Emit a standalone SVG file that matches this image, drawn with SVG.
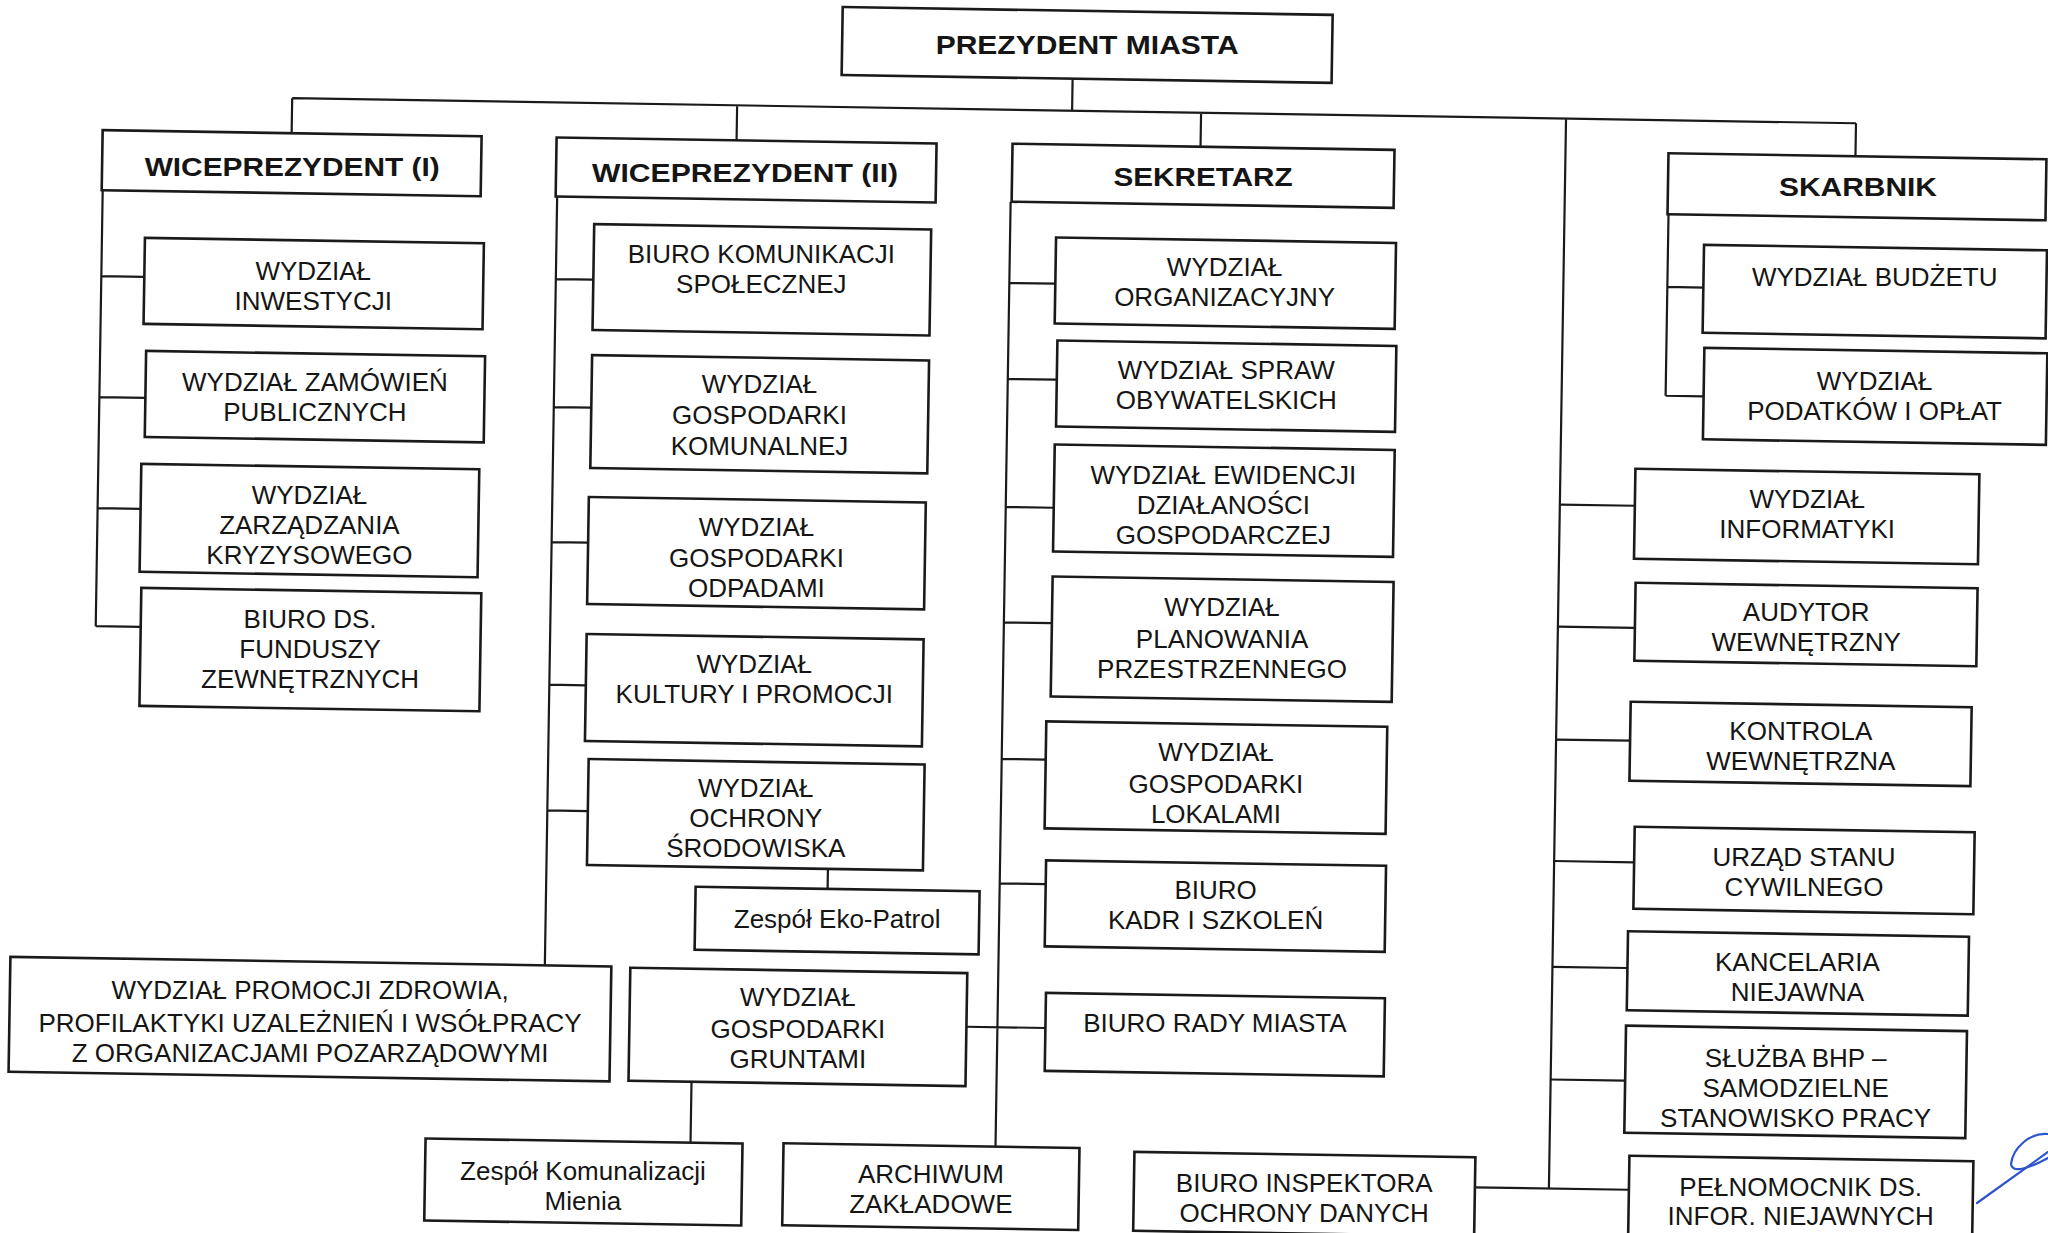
<svg xmlns="http://www.w3.org/2000/svg" width="2048" height="1233" viewBox="0 0 2048 1233">
<style>
.box{fill:#fff;stroke:#1a1a1a;stroke-width:2.6}
.ln{fill:none;stroke:#1a1a1a;stroke-width:2.2}
.t{font-family:"Liberation Sans",Arial,sans-serif;font-size:26px;text-anchor:middle;fill:#151515}
.h{font-family:"Liberation Sans",Arial,sans-serif;font-size:26px;font-weight:bold;text-anchor:middle;fill:#151515}
.sig{fill:none;stroke:#2f55cc;stroke-width:2.2;stroke-linecap:round}
</style>
<rect width="2048" height="1233" fill="#fff"/>
<g transform="rotate(0.917 1024 616)">
<g id="connectors">
<path class="ln" d="M1064,78V110M284,110H1848M284,110V145M729,110V145M1193,110V144M1848,110V143M1558,110V1180"/>
<path class="ln" d="M96,205V641M96,291H139M96,412H142M96,523H139M96,641H141"/>
<path class="ln" d="M550.5,204V973M550.5,286.6H588M550.5,414.6H588M550.5,549.6H587M550.5,692.3H587M550.5,818H591M832,872V892M699,1087V1148"/>
<path class="ln" d="M1004,202V1147M1004,283.2H1050M1004,379.2H1053M1004,507.3H1052M1004,622.7H1052M1004,759.3H1048M1004,883.7H1050M973,1027.6H1052"/>
<path class="ln" d="M1558,496H1633M1558,618H1635M1558,731H1632M1558,852.5H1638M1558,958.3H1633M1558,1071H1632.5M1484,1180H1638"/>
<path class="ln" d="M1662,204V385.5M1662,276.7H1698M1662,385.5H1700"/>
</g>
<g id="prezydent"><rect class="box" x="833" y="10" width="490" height="68"/><text class="h" x="1078" y="53.5" textLength="303" lengthAdjust="spacingAndGlyphs" transform="rotate(-0.917 1078 44)">PREZYDENT MIASTA</text></g>
<g id="wiceprezydent1"><rect class="box" x="95" y="145" width="379" height="60"/><text class="h" x="285" y="188" textLength="295" lengthAdjust="spacingAndGlyphs" transform="rotate(-0.917 285 175)">WICEPREZYDENT (I)</text></g>
<g id="wiceprezydent2"><rect class="box" x="549" y="145" width="380" height="59"/><text class="h" x="738" y="187" textLength="306" lengthAdjust="spacingAndGlyphs" transform="rotate(-0.917 738 175)">WICEPREZYDENT (II)</text></g>
<g id="sekretarz"><rect class="box" x="1005" y="144" width="382" height="58"/><text class="h" x="1196" y="183.7" textLength="179" lengthAdjust="spacingAndGlyphs" transform="rotate(-0.917 1196 173)">SEKRETARZ</text></g>
<g id="skarbnik"><rect class="box" x="1661" y="143" width="378" height="61"/><text class="h" x="1851" y="182.7" textLength="158" lengthAdjust="spacingAndGlyphs" transform="rotate(-0.917 1851 173)">SKARBNIK</text></g>

<g id="inwestycji"><rect class="box" x="139" y="252" width="339" height="86"/><text class="t" transform="rotate(-0.917 308 295)"><tspan x="308" y="291.5">WYDZIAŁ</tspan><tspan x="308" y="321">INWESTYCJI</tspan></text></g>
<g id="zamowien"><rect class="box" x="142" y="365" width="339" height="86"/><text class="t" transform="rotate(-0.917 311.5 408)"><tspan x="311.5" y="402.5">WYDZIAŁ ZAMÓWIEŃ</tspan><tspan x="311.5" y="432.5">PUBLICZNYCH</tspan></text></g>
<g id="kryzysowego"><rect class="box" x="139" y="478" width="338" height="108"/><text class="t" transform="rotate(-0.917 308 532)"><tspan x="308" y="515.3">WYDZIAŁ</tspan><tspan x="308" y="545.3">ZARZĄDZANIA</tspan><tspan x="308" y="575.3">KRYZYSOWEGO</tspan></text></g>
<g id="fundusze"><rect class="box" x="141" y="602" width="340" height="118"/><text class="t" transform="rotate(-0.917 310.7 661)"><tspan x="310.7" y="639.7">BIURO DS.</tspan><tspan x="310.7" y="669.7">FUNDUSZY</tspan><tspan x="310.7" y="699.7">ZEWNĘTRZNYCH</tspan></text></g>

<g id="komunikacji"><rect class="box" x="588" y="231" width="337" height="106"/><text class="t" transform="rotate(-0.917 756 284)"><tspan x="756" y="267">BIURO KOMUNIKACJI</tspan><tspan x="756" y="297">SPOŁECZNEJ</tspan></text></g>
<g id="komunalnej"><rect class="box" x="588" y="362" width="337" height="113"/><text class="t" transform="rotate(-0.917 756.3 418)"><tspan x="756.3" y="397.5">WYDZIAŁ</tspan><tspan x="756.3" y="428.5">GOSPODARKI</tspan><tspan x="756.3" y="459.5">KOMUNALNEJ</tspan></text></g>
<g id="odpadami"><rect class="box" x="587" y="504" width="337" height="107"/><text class="t" transform="rotate(-0.917 755.5 557)"><tspan x="755.5" y="540.5">WYDZIAŁ</tspan><tspan x="755.5" y="571.5">GOSPODARKI</tspan><tspan x="755.5" y="601.5">ODPADAMI</tspan></text></g>
<g id="kultury"><rect class="box" x="587" y="641" width="337" height="107"/><text class="t" transform="rotate(-0.917 755.5 694)"><tspan x="755.5" y="677">WYDZIAŁ</tspan><tspan x="755.5" y="707">KULTURY I PROMOCJI</tspan></text></g>
<g id="ochrony"><rect class="box" x="591" y="766" width="336" height="106"/><text class="t" transform="rotate(-0.917 759 819)"><tspan x="759" y="801.5">WYDZIAŁ</tspan><tspan x="759" y="831.5">OCHRONY</tspan><tspan x="759" y="861.5">ŚRODOWISKA</tspan></text></g>
<g id="ekopatrol"><rect class="box" x="700" y="892" width="284" height="63"/><text class="t" x="842" y="930.5" transform="rotate(-0.917 842 923)">Zespół Eko-Patrol</text></g>
<g id="promocji-zdrowia"><rect class="box" x="16" y="973" width="601" height="115"/><text class="t" transform="rotate(-0.917 316.6 1030)"><tspan x="316.6" y="1010.7">WYDZIAŁ PROMOCJI ZDROWIA,</tspan><tspan x="316.6" y="1043.7">PROFILAKTYKI UZALEŻNIEŃ I WSÓŁPRACY</tspan><tspan x="316.6" y="1073.7">Z ORGANIZACJAMI POZARZĄDOWYMI</tspan></text></g>
<g id="gruntami"><rect class="box" x="636" y="974" width="337" height="113"/><text class="t" transform="rotate(-0.917 804.5 1030)"><tspan x="804.5" y="1010">WYDZIAŁ</tspan><tspan x="804.5" y="1041.5">GOSPODARKI</tspan><tspan x="804.5" y="1071.5">GRUNTAMI</tspan></text></g>
<g id="komunalizacji"><rect class="box" x="434" y="1148" width="317" height="82"/><text class="t" transform="rotate(-0.917 592 1189)"><tspan x="592" y="1186.5">Zespół Komunalizacji</tspan><tspan x="592" y="1216.5">Mienia</tspan></text></g>
<g id="archiwum"><rect class="box" x="792" y="1147" width="296" height="82"/><text class="t" transform="rotate(-0.917 940 1188)"><tspan x="940" y="1184.3">ARCHIWUM</tspan><tspan x="940" y="1214.3">ZAKŁADOWE</tspan></text></g>

<g id="organizacyjny"><rect class="box" x="1050" y="237" width="340" height="86"/><text class="t" transform="rotate(-0.917 1219.3 280)"><tspan x="1219.3" y="273.1">WYDZIAŁ</tspan><tspan x="1219.3" y="303.1">ORGANIZACYJNY</tspan></text></g>
<g id="obywatelskich"><rect class="box" x="1053" y="340" width="339" height="86"/><text class="t" transform="rotate(-0.917 1222.6 383)"><tspan x="1222.6" y="376.2">WYDZIAŁ SPRAW</tspan><tspan x="1222.6" y="406.2">OBYWATELSKICH</tspan></text></g>
<g id="ewidencji"><rect class="box" x="1052" y="444" width="340" height="107"/><text class="t" transform="rotate(-0.917 1221.5 497)"><tspan x="1221.5" y="481.3">WYDZIAŁ EWIDENCJI</tspan><tspan x="1221.5" y="511.3">DZIAŁANOŚCI</tspan><tspan x="1221.5" y="541.3">GOSPODARCZEJ</tspan></text></g>
<g id="planowania"><rect class="box" x="1052" y="576" width="341" height="120"/><text class="t" transform="rotate(-0.917 1222.4 636)"><tspan x="1222.4" y="613">WYDZIAŁ</tspan><tspan x="1222.4" y="644.5">PLANOWANIA</tspan><tspan x="1222.4" y="674.5">PRZESTRZENNEGO</tspan></text></g>
<g id="lokalami"><rect class="box" x="1048" y="721" width="341" height="107"/><text class="t" transform="rotate(-0.917 1218.5 775)"><tspan x="1218.5" y="758.2">WYDZIAŁ</tspan><tspan x="1218.5" y="789.7">GOSPODARKI</tspan><tspan x="1218.5" y="819.7">LOKALAMI</tspan></text></g>
<g id="kadr"><rect class="box" x="1050" y="860" width="340" height="86"/><text class="t" transform="rotate(-0.917 1220.2 903)"><tspan x="1220.2" y="896.2">BIURO</tspan><tspan x="1220.2" y="926.2">KADR I SZKOLEŃ</tspan></text></g>
<g id="rady-miasta"><rect class="box" x="1052" y="992.5" width="339" height="78"/><text class="t" x="1221.6" y="1028.7" transform="rotate(-0.917 1221.6 1031)">BIURO RADY MIASTA</text></g>
<g id="inspektora"><rect class="box" x="1143" y="1150" width="341" height="79"/><text class="t" transform="rotate(-0.917 1313.4 1190)"><tspan x="1313.4" y="1187.5">BIURO INSPEKTORA</tspan><tspan x="1313.4" y="1217">OCHRONY DANYCH</tspan></text></g>

<g id="informatyki"><rect class="box" x="1633" y="459" width="344" height="90"/><text class="t" transform="rotate(-0.917 1805.5 504)"><tspan x="1805.5" y="495.2">WYDZIAŁ</tspan><tspan x="1805.5" y="525.2">INFORMATYKI</tspan></text></g>
<g id="audytor"><rect class="box" x="1635" y="573" width="342" height="78"/><text class="t" transform="rotate(-0.917 1806.2 612)"><tspan x="1806.2" y="608.7">AUDYTOR</tspan><tspan x="1806.2" y="638.7">WEWNĘTRZNY</tspan></text></g>
<g id="kontrola"><rect class="box" x="1632" y="692" width="341" height="79"/><text class="t" transform="rotate(-0.917 1802.8 731)"><tspan x="1802.8" y="727.5">KONTROLA</tspan><tspan x="1802.8" y="757.5">WEWNĘTRZNA</tspan></text></g>
<g id="usc"><rect class="box" x="1638" y="817" width="340" height="82"/><text class="t" transform="rotate(-0.917 1808 858)"><tspan x="1808" y="853.5">URZĄD STANU</tspan><tspan x="1808" y="883.5">CYWILNEGO</tspan></text></g>
<g id="kancelaria"><rect class="box" x="1633" y="921.5" width="341" height="79"/><text class="t" transform="rotate(-0.917 1803 961)"><tspan x="1803" y="958.4">KANCELARIA</tspan><tspan x="1803" y="988.4">NIEJAWNA</tspan></text></g>
<g id="bhp"><rect class="box" x="1632.5" y="1016" width="341" height="107"/><text class="t" transform="rotate(-0.917 1803 1070)"><tspan x="1803" y="1055">SŁUŻBA BHP –</tspan><tspan x="1803" y="1085">SAMODZIELNE</tspan><tspan x="1803" y="1114.5">STANOWISKO PRACY</tspan></text></g>
<g id="pelnomocnik"><rect class="box" x="1638" y="1146" width="344" height="92"/><text class="t" transform="rotate(-0.917 1810 1190)"><tspan x="1810" y="1183">PEŁNOMOCNIK DS.</tspan><tspan x="1810" y="1212.5">INFOR. NIEJAWNYCH</tspan></text></g>

<g id="budzetu"><rect class="box" x="1698" y="234" width="343" height="88"/><text class="t" x="1869.4" y="272.6" transform="rotate(-0.917 1869.4 278)">WYDZIAŁ BUDŻETU</text></g>
<g id="podatkow"><rect class="box" x="1700" y="337" width="343" height="91.5"/><text class="t" transform="rotate(-0.917 1871 383)"><tspan x="1871" y="376.4">WYDZIAŁ</tspan><tspan x="1871" y="406.4">PODATKÓW I OPŁAT</tspan></text></g>
</g>
<g id="signature">
<path class="sig" d="M1977,1203 Q2012,1178 2048,1152"/>
<path class="sig" d="M2048,1134 C2030,1132 2013,1148 2011,1164 C2012,1174 2030,1168 2048,1158"/>
</g>
</svg>
